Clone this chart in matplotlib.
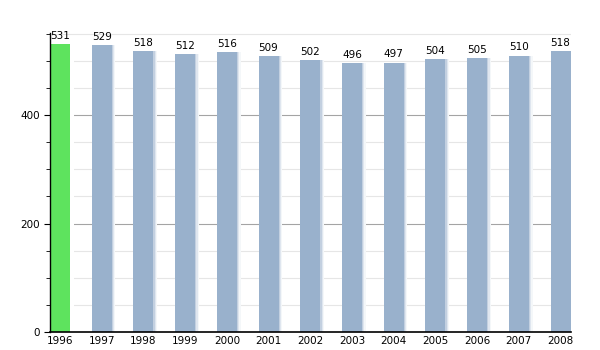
import matplotlib.pyplot as plt
import numpy as np

years = ['1996', '1997', '1998', '1999', '2000', '2001', '2002',
         '2003', '2004', '2005', '2006', '2007', '2008']
population = [531, 529, 518, 512, 516, 509, 502, 496, 497, 504, 505, 510, 518]

fig = plt.figure(figsize=(6, 3.5), dpi=100)
ax = fig.add_axes([0.0833, 0.0514, 0.869, 0.855])

x = np.arange(len(years))
colors = ['#5ee35e'] + ['#99b1cc'] * (len(years) - 1)

# white gap around the bars cuts the grid lines
ax.bar(x + 0.045, population, width=0.57, color='white', zorder=2, linewidth=0)
# soft shadow on the right side of each bar
for dx, a in [(0.03, 0.4), (0.06, 0.22), (0.09, 0.1)]:
    ax.bar(x[1:] + dx, population[1:], width=0.48, color='#99b1cc',
           alpha=a, align='center', zorder=2.5, linewidth=0)
ax.bar(x, population, width=0.48, color=colors, zorder=3, linewidth=0)

for xi, v in zip(x, population):
    ax.text(xi, v + 6, str(v), ha='center', va='bottom', fontsize=7.5, zorder=4)

ax.set_xlim(-0.24, 12.26)
ax.set_ylim(0, 552)
ax.set_yticks([0, 200, 400])
ax.set_yticks(np.arange(0, 551, 50), minor=True)
ax.set_xticks(x)
ax.set_xticklabels(years)

for v in np.arange(50, 551, 50):
    c = '#a4a4a4' if v in (200, 400) else '#e6e6e6'
    ax.axhline(v, color=c, linewidth=0.8, zorder=1)

ax.tick_params(axis='both', labelsize=7.5, length=4, width=0.8)
ax.tick_params(axis='x', length=0, pad=3)
ax.tick_params(axis='y', which='minor', length=3)
for s in ['top', 'right']:
    ax.spines[s].set_visible(False)
ax.spines['left'].set_linewidth(1)
ax.spines['bottom'].set_linewidth(1.2)
ax.spines['left'].set_zorder(5)
ax.spines['bottom'].set_zorder(5)

fig.savefig('out.png', dpi=100)
